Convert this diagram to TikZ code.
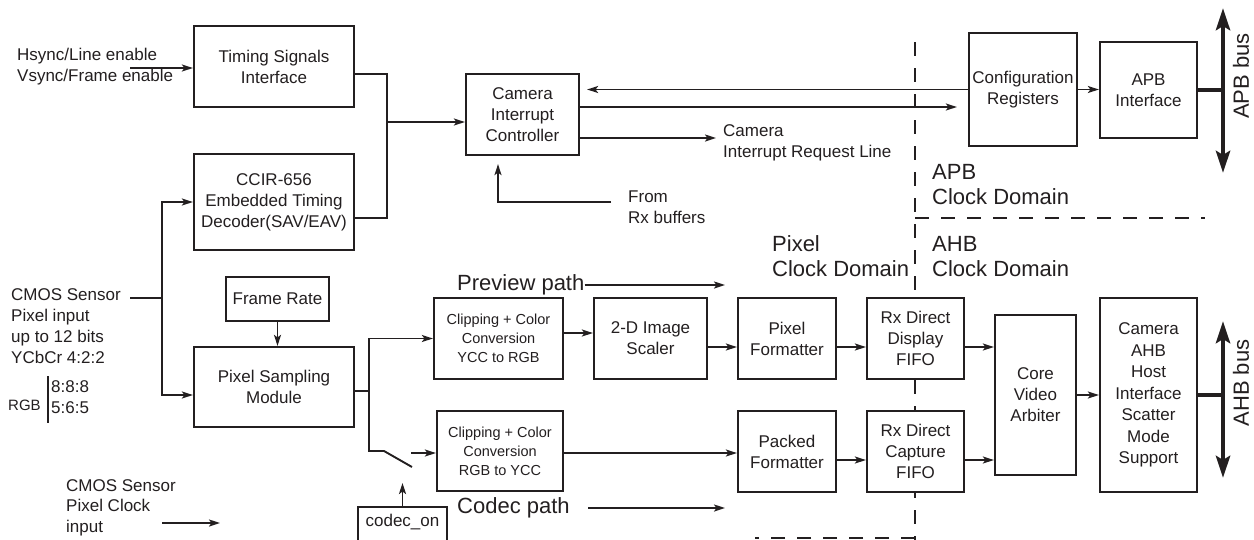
\documentclass[tikz,border=0pt]{standalone}
\usepackage{fontspec}
\setmainfont{Liberation Sans}
\usetikzlibrary{arrows.meta}
\definecolor{ink}{RGB}{35,31,32}
\begin{document}
\begin{tikzpicture}[x=1pt,y=-1pt]
\tikzset{
 blk/.style={draw=ink, line width=2.2pt, fill=white, align=center, inner sep=0pt, text=ink, font=\fontsize{17}{21}\selectfont},
 sml/.style={font=\fontsize{14.5}{19}\selectfont},
 txt/.style={text=ink, align=left, inner sep=0pt, anchor=west, font=\fontsize{17}{21}\selectfont},
 big/.style={font=\fontsize{22}{25}\selectfont},
 conn/.style={draw=ink, line width=1.9pt},
 arr/.style={conn, -{Stealth[length=11pt,width=7pt,inset=2.5pt]}},
 bus/.style={draw=ink, line width=4.5pt, {Stealth[length=22pt,width=14pt,inset=4pt]}-{Stealth[length=22pt,width=14pt,inset=4pt]}},
 dombrd/.style={draw=ink, line width=1.9pt, dash pattern=on 14pt off 12pt},
}
\clip (0,0) rectangle (1254,539);
\fill[white] (0,0) rectangle (1254,539);

% clock domain borders
\draw[dombrd] (915,42) -- (915,545);
\draw[dombrd] (915,218) -- (1205,218);
\draw[dombrd] (915,538) -- (755,538);

% blocks
\node[blk, minimum width=160pt, minimum height=81pt] (tsi) at (274,66.5) {Timing Signals\\Interface};
\node[blk, minimum width=160pt, minimum height=96pt] (ccir) at (274,202) {CCIR-656\\Embedded Timing\\Decoder(SAV/EAV)};
\node[blk, minimum width=113pt, minimum height=81pt] (cic) at (522.5,114.5) {Camera\\Interrupt\\Controller};
\node[blk, minimum width=108pt, minimum height=113pt] (cfg) at (1023,89.5) {Configuration\\Registers};
\node[blk, minimum width=97pt, minimum height=96pt] (apbi) at (1148.5,90) {APB\\Interface};
\node[blk, minimum width=103pt, minimum height=44pt] (frate) at (277.5,299) {Frame Rate};
\node[blk, minimum width=160pt, minimum height=80pt] (psm) at (274,387) {Pixel Sampling\\Module};
\node[blk, sml, minimum width=129pt, minimum height=81pt] (clip1) at (498.5,338.5) {Clipping + Color\\Conversion\\YCC to RGB};
\node[blk, sml, minimum width=126pt, minimum height=80pt] (clip2) at (500,451) {Clipping + Color\\Conversion\\RGB to YCC};
\node[blk, minimum width=113pt, minimum height=81pt] (scaler) at (650.5,338.5) {2-D Image\\Scaler};
\node[blk, minimum width=98pt, minimum height=81pt] (pfmt) at (787,338.5) {Pixel\\Formatter};
\node[blk, minimum width=98pt, minimum height=81pt] (pkfmt) at (787,451.5) {Packed\\Formatter};
\node[blk, minimum width=97pt, minimum height=81pt] (rxd) at (915.5,338.5) {Rx Direct\\Display\\FIFO};
\node[blk, minimum width=97pt, minimum height=81pt] (rxc) at (915.5,451.5) {Rx Direct\\Capture\\FIFO};
\node[blk, minimum width=81pt, minimum height=160pt] (cva) at (1035.5,395) {Core\\Video\\Arbiter};
\node[blk, minimum width=97pt, minimum height=194pt, font=\fontsize{17}{21.5}\selectfont] (ahb) at (1148.5,395) {Camera\\AHB\\Host\\Interface\\Scatter\\Mode\\Support};
\node[blk, minimum width=89pt, minimum height=40pt] (codec) at (402.5,527) {};
\node[txt, anchor=center] (codect) at (402.5,522) {codec\_on};

% texts
\node[txt] (hs) at (17,67) {Hsync/Line enable\\Vsync/Frame enable};
\node[txt] (cmos) at (11,326.5) {CMOS Sensor\\Pixel input\\up to 12 bits\\YCbCr 4:2:2};
\node[txt, font=\fontsize{15}{18}\selectfont] (rgb) at (8,405) {RGB};
\node[txt] (rgbv) at (51,397.5) {8:8:8\\5:6:5};
\node[txt, font=\fontsize{17}{20.5}\selectfont] (pclk) at (66,507.5) {CMOS Sensor\\Pixel Clock\\input};
\node[txt] (irqt) at (723,143) {Camera\\Interrupt Request Line};
\node[txt] (rxbt) at (628,207.5) {From\\Rx buffers};
\node[txt, big] (apbd) at (932,184.5) {APB\\Clock Domain};
\node[txt, big] (pixd) at (772,256.5) {Pixel\\Clock Domain};
\node[txt, big] (ahbd) at (932,256.5) {AHB\\Clock Domain};
\node[txt, big] (pvt) at (457,285) {Preview path};
\node[txt, big] (cdt) at (457,508) {Codec path};
\node[text=ink, inner sep=0pt, rotate=90, font=\fontsize{22}{25}\selectfont] (apbbus) at (1241,76) {APB bus};
\node[text=ink, inner sep=0pt, rotate=90, font=\fontsize{22}{25}\selectfont] (ahbbus) at (1241,383) {AHB bus};

% coordinates
\coordinate (hsA) at (130,68);
\coordinate (jv) at (387,122);
\coordinate (cm) at (130,298);
\coordinate (jc) at (162,298);
\coordinate (js) at (369,391);
\coordinate (sw1) at (384,451);
\coordinate (sw2) at (412,467);
\coordinate (swin) at (411,453);
\coordinate (swc) at (402.5,483);
\coordinate (irq) at (716,138);
\coordinate (rxb) at (611,202);
\coordinate (pv2) at (725,285);
\coordinate (cd1) at (588,508);
\coordinate (cd2) at (725,508);
\coordinate (pc1) at (162,523);
\coordinate (pc2) at (220,523);
\coordinate (apbT) at (1223,8);
\coordinate (apbB) at (1223,173);
\coordinate (ahbT) at (1223,321);
\coordinate (ahbB) at (1223,478);
\coordinate (rgb1) at (48,376);
\coordinate (rgb2) at (48,423);

% connectors
\draw[arr] (hsA) -- (hsA -| tsi.west);
\draw[conn] ([yshift=-7.5pt]tsi.east) -| (jv) |- ([yshift=-16pt]ccir.east);
\draw[arr] (jv) -- (jv -| cic.west);
\draw[conn] (cm) -- (jc);
\draw[arr] (jc) |- (ccir.west);
\draw[arr] (jc) |- ([yshift=-8pt]psm.west);
\draw[arr] (frate.south) -- (frate.south |- psm.north);
\draw[conn] ([yshift=-4pt]psm.east) -- (js);
\draw[arr] (js) |- (clip1.west);
\draw[conn] (js) |- (sw1) -- (sw2);
\draw[arr] (swin) -- (swin -| clip2.west);
\draw[arr] (codec.north) -- (swc);
\draw[arr] ([yshift=5.5pt]clip1.east) -- ([yshift=5.5pt]clip1.east -| scaler.west);
\draw[arr] ([yshift=-8.5pt]scaler.east) -- ([yshift=-8.5pt]scaler.east -| pfmt.west);
\draw[arr] ([yshift=-8.5pt]pfmt.east) -- ([yshift=-8.5pt]pfmt.east -| rxd.west);
\draw[arr] ([yshift=-8.5pt]rxd.east) -- ([yshift=-8.5pt]rxd.east -| cva.west);
\draw[arr] ([yshift=-2pt]clip2.east) -- ([yshift=-2pt]clip2.east -| pkfmt.west);
\draw[arr] ([yshift=-8.5pt]pkfmt.east) -- ([yshift=-8.5pt]pkfmt.east -| rxc.west);
\draw[arr] ([yshift=-8.5pt]rxc.east) -- ([yshift=-8.5pt]rxc.east -| cva.west);
\draw[arr] (cva.east) -- (cva.east -| ahb.west);
\draw[arr] (cfg.east) -- (cfg.east -| apbi.west);
\draw[arr, shorten >=7pt] (cfg.west) -- (cfg.west -| cic.east);
\draw[arr, shorten >=11pt] ([yshift=7.5pt]cic.east) -- ([yshift=7.5pt]cic.east -| cfg.west);
\draw[arr] ([yshift=-23.5pt]cic.east) -- (irq);
\draw[arr, shorten >=8pt] (rxb) -| ([xshift=-24.5pt]cic.south);
\draw[arr] (pvt.east) -- (pv2);
\draw[arr] (cd1) -- (cd2);
\draw[arr] (pc1) -- (pc2);
\draw[conn, line width=1.4pt] (rgb1) -- (rgb2);

% buses
\draw[draw=ink, line width=4.5pt] (apbi.east) -- (apbi.east -| apbT);
\draw[bus] (apbT) -- (apbB);
\draw[draw=ink, line width=4.5pt] (ahb.east) -- (ahb.east -| ahbT);
\draw[bus] (ahbT) -- (ahbB);
\end{tikzpicture}
\end{document}
